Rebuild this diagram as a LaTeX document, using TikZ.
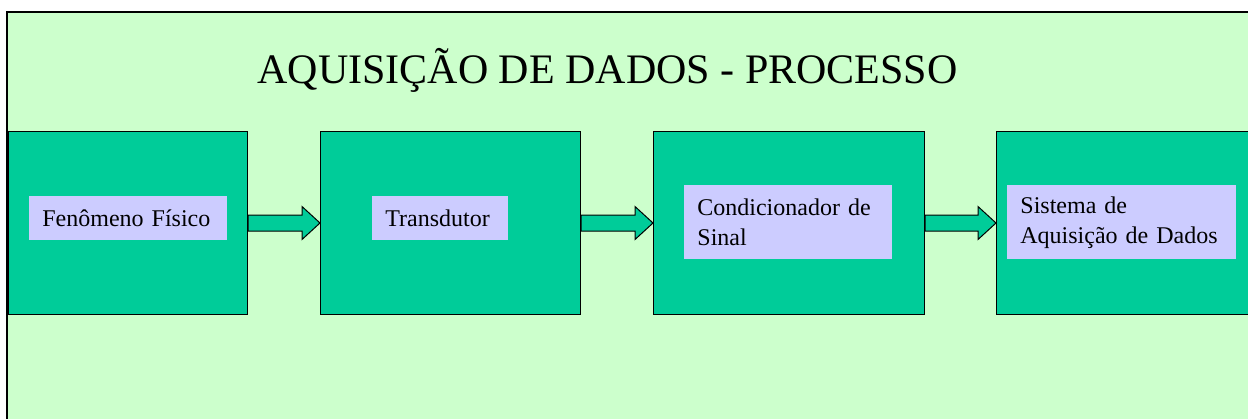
\documentclass[tikz,border=0pt]{standalone}
\usepackage{fontspec}
\setmainfont{Liberation Serif}
\usepackage{xcolor}
\usepackage{tikz}
\usetikzlibrary{positioning}
\usetikzlibrary{calc}

\definecolor{fundo}{HTML}{CCFFCC}
\definecolor{verde}{HTML}{00CC99}
\definecolor{lilas}{HTML}{CCCCFF}

% seta larga entre dois blocos
\newcommand{\flecha}[2]{%
	\draw[Seta] let \p1 = (#1.east), \p2 = (#2.west) in
		(\x1,\y1+4pt) -- (\x2-9pt,\y1+4pt) -- (\x2-9pt,\y1+8.25pt) -- (\x2,\y1)
		-- (\x2-9pt,\y1-8.25pt) -- (\x2-9pt,\y1-4pt) -- (\x1,\y1-4pt) -- cycle;}

\begin{document}
\begin{tikzpicture}[x=0.5pt, y=-0.5pt]
			\tikzstyle{Bloco}  = [draw, line width=0.5pt, fill=verde, anchor=north west, minimum height=91.5pt, inner sep=0pt]
			\tikzstyle{Rotulo} = [fill=lilas, anchor=north west, align=left, inner xsep=6.5pt, inner ysep=0pt, font=\fontsize{12}{15}\selectfont]
			\tikzstyle{Seta}   = [draw, line width=0.5pt, fill=verde]
			\useasboundingbox (0,0) rectangle (1248,418);
			%\draw[help lines, step=50] (0,0) grid (1248,418);
			\draw[line width=1.2pt, fill=fundo] (7,12) rectangle (1270,440);
			\node[anchor=base, font=\fontsize{21}{25}\selectfont] (titulo) at (607.5,83) {AQUISIÇÃO DE DADOS - PROCESSO};
			
			\node[Bloco, minimum width=119.5pt] (fenomeno) at (8,131) {};
			\node[Bloco, minimum width=130pt] (transdutor) at (320,131) {};
			\node[Bloco, minimum width=135.5pt] (condicionador) at (653,131) {};
			\node[Bloco, minimum width=140pt] (sistema) at (996,131) {};
			
			\node[Rotulo, text width=86pt, minimum height=22pt] (rFenomeno) at (29,196) {Fenômeno Físico};
			\node[Rotulo, text width=55pt, minimum height=22pt] (rTransdutor) at (372,196) {Transdutor};
			\node[Rotulo, text width=91pt, minimum height=37pt] (rCondicionador) at (684,185) {Condicionador de\\Sinal};
			\node[Rotulo, text width=101.5pt, minimum height=37pt] (rSistema) at (1007,185) {Sistema de\\Aquisição de Dados};
			
			\flecha{fenomeno}{transdutor}
			\flecha{transdutor}{condicionador}
			\flecha{condicionador}{sistema}
		\end{tikzpicture}
\end{document}
